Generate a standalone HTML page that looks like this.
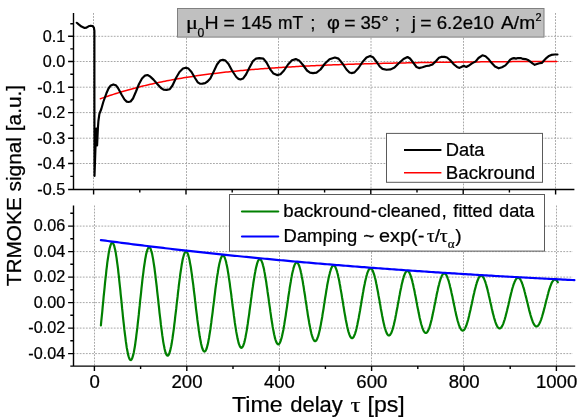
<!DOCTYPE html>
<html><head><meta charset="utf-8"><title>TRMOKE</title>
<style>html,body{margin:0;padding:0;background:#fff;}body{width:581px;height:418px;overflow:hidden;position:relative;font-family:"Liberation Sans",sans-serif;}text{fill:#000;stroke:#000;stroke-width:0.24px}</style>
</head><body>
<svg width="581" height="418" viewBox="0 0 581 418" style="position:absolute;left:0;top:0;will-change:transform;font-family:'Liberation Sans',sans-serif">
<rect x="0" y="0" width="581" height="418" fill="#ffffff"/>
<path d="M93.5 13.0 V189.5 M94.5 205.5 V366.1 M186.5 13.0 V189.5 M186.5 205.5 V366.1 M278.5 13.0 V189.5 M279.5 205.5 V366.1 M371.0 13.0 V189.5 M371.5 205.5 V366.1 M463.5 13.0 V189.5 M463.5 205.5 V366.1 M555.5 13.0 V189.5 M556.5 205.5 V366.1 M73.5 36.3 H572.8 M73.5 61.5 H572.8 M73.5 87.2 H572.8 M73.5 112.6 H572.8 M73.5 138.2 H572.8 M73.5 163.5 H572.8 M73.5 226.1 H572.8 M73.5 251.6 H572.8 M73.5 277.1 H572.8 M73.5 302.6 H572.8 M73.5 328.1 H572.8 M73.5 353.6 H572.8" stroke="#a8a8a8" stroke-width="1" stroke-dasharray="1.8 1.3" fill="none"/>
<polyline points="100.4,98.78 102.2,98.12 104.1,97.46 105.9,96.82 107.8,96.18 109.6,95.56 111.5,94.95 113.3,94.35 115.2,93.77 117.0,93.19 118.9,92.62 120.7,92.06 122.6,91.51 124.4,90.98 126.3,90.45 128.1,89.93 130.0,89.42 131.8,88.92 133.7,88.43 135.5,87.95 137.4,87.47 139.2,87.00 141.0,86.54 142.9,86.08 144.7,85.63 146.6,85.19 148.4,84.76 150.3,84.33 152.1,83.91 154.0,83.50 155.8,83.10 157.7,82.70 159.5,82.31 161.4,81.93 163.2,81.56 165.1,81.19 166.9,80.83 168.8,80.47 170.6,80.12 172.5,79.78 174.3,79.44 176.2,79.11 178.0,78.79 179.9,78.47 181.7,78.16 183.6,77.85 185.4,77.55 187.2,77.25 189.1,76.96 190.9,76.67 192.8,76.39 194.6,76.12 196.5,75.85 198.3,75.58 200.2,75.32 202.0,75.06 203.9,74.81 205.7,74.56 207.6,74.32 209.4,74.08 211.3,73.84 213.1,73.61 215.0,73.39 216.8,73.16 218.7,72.95 220.5,72.73 222.4,72.52 224.2,72.31 226.1,72.11 227.9,71.91 229.8,71.72 231.6,71.52 233.4,71.33 235.3,71.15 237.1,70.97 239.0,70.79 240.8,70.61 242.7,70.44 244.5,70.27 246.4,70.10 248.2,69.94 250.1,69.78 251.9,69.62 253.8,69.46 255.6,69.31 257.5,69.16 259.3,69.01 261.2,68.87 263.0,68.73 264.9,68.59 266.7,68.45 268.6,68.32 270.4,68.19 272.3,68.06 274.1,67.93 276.0,67.81 277.8,67.68 279.6,67.56 281.5,67.44 283.3,67.33 285.2,67.21 287.0,67.10 288.9,66.99 290.7,66.88 292.6,66.78 294.4,66.67 296.3,66.57 298.1,66.47 300.0,66.37 301.8,66.27 303.7,66.18 305.5,66.08 307.4,65.99 309.2,65.90 311.1,65.81 312.9,65.73 314.8,65.64 316.6,65.56 318.5,65.47 320.3,65.39 322.2,65.31 324.0,65.24 325.8,65.16 327.7,65.08 329.5,65.01 331.4,64.94 333.2,64.86 335.1,64.79 336.9,64.73 338.8,64.66 340.6,64.59 342.5,64.53 344.3,64.46 346.2,64.40 348.0,64.34 349.9,64.28 351.7,64.22 353.6,64.16 355.4,64.10 357.3,64.04 359.1,63.99 361.0,63.93 362.8,63.88 364.7,63.83 366.5,63.78 368.4,63.73 370.2,63.68 372.0,63.63 373.9,63.58 375.7,63.53 377.6,63.48 379.4,63.44 381.3,63.39 383.1,63.35 385.0,63.31 386.8,63.26 388.7,63.22 390.5,63.18 392.4,63.14 394.2,63.10 396.1,63.06 397.9,63.03 399.8,62.99 401.6,62.95 403.5,62.92 405.3,62.88 407.2,62.85 409.0,62.81 410.9,62.78 412.7,62.75 414.6,62.71 416.4,62.68 418.2,62.65 420.1,62.62 421.9,62.59 423.8,62.56 425.6,62.53 427.5,62.50 429.3,62.47 431.2,62.45 433.0,62.42 434.9,62.39 436.7,62.37 438.6,62.34 440.4,62.32 442.3,62.29 444.1,62.27 446.0,62.24 447.8,62.22 449.7,62.20 451.5,62.17 453.4,62.15 455.2,62.13 457.1,62.11 458.9,62.09 460.8,62.07 462.6,62.05 464.4,62.03 466.3,62.01 468.1,61.99 470.0,61.97 471.8,61.95 473.7,61.93 475.5,61.92 477.4,61.90 479.2,61.88 481.1,61.86 482.9,61.85 484.8,61.83 486.6,61.81 488.5,61.80 490.3,61.78 492.2,61.77 494.0,61.75 495.9,61.74 497.7,61.72 499.6,61.71 501.4,61.70 503.3,61.68 505.1,61.67 507.0,61.66 508.8,61.64 510.6,61.63 512.5,61.62 514.3,61.61 516.2,61.59 518.0,61.58 519.9,61.57 521.7,61.56 523.6,61.55 525.4,61.54 527.3,61.53 529.1,61.52 531.0,61.51 532.8,61.50 534.7,61.49 536.5,61.48 538.4,61.47 540.2,61.46 542.1,61.45 543.9,61.44 545.8,61.43 547.6,61.42 549.5,61.41 551.3,61.40 553.2,61.40 555.0,61.39 556.8,61.38" stroke="#ff0000" stroke-width="1.5" fill="none" stroke-linejoin="round" stroke-linecap="round"/>
<polyline points="76.8,22.8 78.7,24.4 81.5,26.6 84.6,28.0 86.5,27.6 88.5,26.3 90.8,25.7 92.6,26.0 93.9,27.6 94.4,31.0 94.4,100.0 94.5,176.0 95.4,150.0 96.3,128.5 97.1,145.5 97.9,128.0 98.4,121.0 99.4,113.8 101.3,109.0 103.3,102.0 106.4,93.3 108.5,88.5 110.8,85.4 113.3,84.4 115.8,85.2 118.0,88.0 121.5,94.5 124.5,99.5 126.7,101.6 128.5,102.0 130.6,101.5 133.0,98.5 136.0,91.5 139.0,84.0 142.0,78.5 145.0,75.6 147.5,75.0 150.0,76.4 153.5,79.6 157.5,84.2 161.0,88.0 163.5,89.6 166.6,89.9 169.8,89.2 172.5,85.5 176.0,78.0 179.5,72.0 183.0,68.6 185.8,67.7 188.5,68.6 191.5,72.0 195.0,78.0 197.8,82.3 199.9,83.7 202.5,83.6 205.1,83.1 207.5,81.5 210.3,78.5 213.5,72.0 217.0,64.5 220.0,60.6 222.8,59.8 225.5,60.6 228.5,64.0 232.0,70.5 236.3,77.0 238.5,78.9 240.5,79.5 243.0,78.6 246.0,74.5 249.5,67.5 253.0,61.0 256.0,58.6 259.2,58.1 263.4,58.6 266.5,62.5 270.0,69.1 273.5,73.6 277.0,75.1 280.5,74.2 284.0,70.5 288.0,64.5 292.0,60.2 295.8,59.1 299.0,60.4 303.0,65.0 307.0,70.5 310.0,72.6 313.0,73.1 316.5,72.6 320.5,69.5 325.0,63.5 329.5,59.2 334.9,57.5 338.5,58.6 342.5,63.5 346.5,69.5 349.5,72.4 351.5,73.1 354.5,72.4 358.5,68.0 362.5,62.0 366.5,57.5 370.2,56.0 373.0,57.2 377.0,62.5 380.0,66.8 382.5,68.9 386.5,69.8 390.8,69.4 394.5,67.5 399.0,63.0 403.5,59.0 407.5,57.0 410.0,58.5 413.5,63.0 416.5,67.0 419.0,68.1 422.5,67.3 426.3,66.0 429.5,65.6 432.5,64.4 436.0,61.0 439.0,57.8 441.9,56.7 444.5,56.9 447.0,57.5 450.0,60.0 454.0,64.5 457.0,66.9 459.6,67.9 461.8,66.8 463.8,65.8 465.2,66.6 466.3,67.0 468.5,65.8 472.0,63.4 475.7,61.4 478.5,58.0 482.4,55.3 485.5,56.2 488.2,58.7 491.5,62.8 495.0,66.6 498.7,68.3 502.0,67.2 505.4,65.4 508.0,62.5 510.2,59.7 512.0,58.6 514.0,58.1 516.0,58.6 518.0,58.0 520.7,58.1 523.0,58.9 525.5,59.1 528.0,60.0 530.3,61.6 532.5,63.4 534.7,64.8 537.0,64.0 539.5,63.3 541.8,62.9 544.0,60.6 546.6,57.8 549.0,55.9 551.3,54.9 554.5,54.5 557.5,54.5" stroke="#000000" stroke-width="2.15" fill="none" stroke-linejoin="round" stroke-linecap="round"/>
<polyline points="100.9,325.40 101.3,320.84 101.8,316.17 102.3,311.42 102.7,306.63 103.2,301.83 103.6,297.04 104.1,292.29 104.6,287.62 105.0,283.04 105.5,278.60 106.0,274.32 106.4,270.21 106.9,266.32 107.3,262.66 107.8,259.25 108.3,256.11 108.7,253.27 109.2,250.74 109.6,248.54 110.1,246.67 110.6,245.15 111.0,243.99 111.5,243.20 112.0,242.77 112.4,242.72 112.9,243.03 113.3,243.71 113.8,244.76 114.3,246.16 114.7,247.90 115.2,249.98 115.7,252.38 116.1,255.09 116.6,258.08 117.0,261.34 117.5,264.85 118.0,268.59 118.4,272.53 118.9,276.65 119.3,280.92 119.8,285.31 120.3,289.81 120.7,294.37 121.2,298.97 121.7,303.59 122.1,308.19 122.6,312.75 123.0,317.23 123.5,321.62 124.0,325.87 124.4,329.98 124.9,333.91 125.4,337.63 125.8,341.14 126.3,344.39 126.7,347.38 127.2,350.09 127.7,352.50 128.1,354.59 128.6,356.36 129.1,357.80 129.5,358.88 130.0,359.62 130.4,360.00 130.9,360.03 131.4,359.70 131.8,359.02 132.3,357.99 132.7,356.62 133.2,354.92 133.7,352.90 134.1,350.57 134.6,347.95 135.1,345.05 135.5,341.90 136.0,338.51 136.4,334.90 136.9,331.10 137.4,327.13 137.8,323.02 138.3,318.79 138.8,314.47 139.2,310.08 139.7,305.66 140.1,301.22 140.6,296.80 141.1,292.43 141.5,288.12 142.0,283.92 142.4,279.84 142.9,275.90 143.4,272.14 143.8,268.58 144.3,265.23 144.8,262.12 145.2,259.27 145.7,256.69 146.1,254.39 146.6,252.40 147.1,250.73 147.5,249.38 148.0,248.36 148.5,247.67 148.9,247.33 149.4,247.33 149.8,247.67 150.3,248.35 150.8,249.36 151.2,250.70 151.7,252.36 152.2,254.33 152.6,256.59 153.1,259.13 153.5,261.93 154.0,264.98 154.5,268.25 154.9,271.73 155.4,275.40 155.8,279.22 156.3,283.18 156.8,287.25 157.2,291.41 157.7,295.63 158.2,299.89 158.6,304.15 159.1,308.39 159.5,312.59 160.0,316.72 160.5,320.75 160.9,324.66 161.4,328.43 161.9,332.03 162.3,335.44 162.8,338.64 163.2,341.61 163.7,344.34 164.2,346.79 164.6,348.98 165.1,350.86 165.5,352.45 166.0,353.73 166.5,354.68 166.9,355.32 167.4,355.62 167.9,355.60 168.3,355.24 168.8,354.57 169.2,353.57 169.7,352.26 170.2,350.64 170.6,348.73 171.1,346.54 171.6,344.08 172.0,341.37 172.5,338.42 172.9,335.26 173.4,331.90 173.9,328.37 174.3,324.69 174.8,320.87 175.2,316.95 175.7,312.95 176.2,308.89 176.6,304.80 177.1,300.71 177.6,296.63 178.0,292.60 178.5,288.64 178.9,284.78 179.4,281.03 179.9,277.42 180.3,273.97 180.8,270.71 181.3,267.65 181.7,264.81 182.2,262.21 182.6,259.87 183.1,257.80 183.6,256.00 184.0,254.50 184.5,253.30 185.0,252.40 185.4,251.82 185.9,251.55 186.3,251.60 186.8,251.96 187.3,252.63 187.7,253.61 188.2,254.89 188.6,256.47 189.1,258.32 189.6,260.45 190.0,262.83 190.5,265.45 191.0,268.30 191.4,271.35 191.9,274.59 192.3,278.00 192.8,281.55 193.3,285.22 193.7,289.00 194.2,292.85 194.7,296.75 195.1,300.68 195.6,304.61 196.0,308.53 196.5,312.40 197.0,316.20 197.4,319.90 197.9,323.50 198.4,326.95 198.8,330.25 199.3,333.37 199.7,336.30 200.2,339.01 200.7,341.48 201.1,343.72 201.6,345.69 202.0,347.39 202.5,348.82 203.0,349.95 203.4,350.79 203.9,351.33 204.4,351.56 204.8,351.49 205.3,351.12 205.7,350.45 206.2,349.49 206.7,348.24 207.1,346.70 207.6,344.90 208.1,342.84 208.5,340.53 209.0,338.00 209.4,335.24 209.9,332.30 210.4,329.17 210.8,325.89 211.3,322.47 211.7,318.93 212.2,315.30 212.7,311.59 213.1,307.84 213.6,304.06 214.1,300.28 214.5,296.53 215.0,292.81 215.4,289.17 215.9,285.61 216.4,282.17 216.8,278.86 217.3,275.70 217.8,272.72 218.2,269.92 218.7,267.33 219.1,264.97 219.6,262.84 220.1,260.97 220.5,259.35 221.0,258.00 221.5,256.93 221.9,256.15 222.4,255.65 222.8,255.45 223.3,255.54 223.8,255.91 224.2,256.58 224.7,257.53 225.1,258.75 225.6,260.25 226.1,262.00 226.5,264.00 227.0,266.23 227.5,268.68 227.9,271.34 228.4,274.19 228.8,277.20 229.3,280.37 229.8,283.66 230.2,287.07 230.7,290.57 231.2,294.13 231.6,297.74 232.1,301.37 232.5,305.00 233.0,308.61 233.5,312.17 233.9,315.67 234.4,319.08 234.8,322.38 235.3,325.55 235.8,328.57 236.2,331.42 236.7,334.09 237.2,336.57 237.6,338.82 238.1,340.85 238.5,342.63 239.0,344.17 239.5,345.44 239.9,346.45 240.4,347.18 240.9,347.63 241.3,347.81 241.8,347.71 242.2,347.32 242.7,346.66 243.2,345.73 243.6,344.53 244.1,343.08 244.6,341.38 245.0,339.44 245.5,337.28 245.9,334.91 246.4,332.34 246.9,329.59 247.3,326.68 247.8,323.63 248.2,320.45 248.7,317.17 249.2,313.81 249.6,310.38 250.1,306.91 250.6,303.42 251.0,299.94 251.5,296.47 251.9,293.05 252.4,289.70 252.9,286.43 253.3,283.27 253.8,280.23 254.3,277.34 254.7,274.61 255.2,272.05 255.6,269.70 256.1,267.55 256.6,265.61 257.0,263.92 257.5,262.46 257.9,261.26 258.4,260.31 258.9,259.63 259.3,259.21 259.8,259.06 260.3,259.18 260.7,259.57 261.2,260.22 261.6,261.14 262.1,262.31 262.6,263.72 263.0,265.37 263.5,267.25 264.0,269.34 264.4,271.64 264.9,274.12 265.3,276.77 265.8,279.58 266.3,282.52 266.7,285.58 267.2,288.74 267.6,291.98 268.1,295.27 268.6,298.61 269.0,301.96 269.5,305.31 270.0,308.64 270.4,311.92 270.9,315.14 271.3,318.27 271.8,321.30 272.3,324.21 272.7,326.98 273.2,329.59 273.7,332.03 274.1,334.28 274.6,336.33 275.0,338.17 275.5,339.78 276.0,341.16 276.4,342.30 276.9,343.20 277.4,343.83 277.8,344.22 278.3,344.34 278.7,344.20 279.2,343.81 279.7,343.16 280.1,342.27 280.6,341.13 281.0,339.75 281.5,338.14 282.0,336.32 282.4,334.30 282.9,332.08 283.4,329.68 283.8,327.12 284.3,324.42 284.7,321.58 285.2,318.63 285.7,315.59 286.1,312.47 286.6,309.30 287.1,306.09 287.5,302.87 288.0,299.65 288.4,296.46 288.9,293.31 289.4,290.22 289.8,287.22 290.3,284.32 290.8,281.53 291.2,278.88 291.7,276.39 292.1,274.06 292.6,271.91 293.1,269.95 293.5,268.20 294.0,266.67 294.4,265.36 294.9,264.28 295.4,263.44 295.8,262.85 296.3,262.50 296.8,262.40 297.2,262.55 297.7,262.94 298.1,263.58 298.6,264.46 299.1,265.58 299.5,266.92 300.0,268.47 300.5,270.24 300.9,272.20 301.4,274.34 301.8,276.66 302.3,279.13 302.8,281.74 303.2,284.47 303.7,287.31 304.1,290.24 304.6,293.24 305.1,296.29 305.5,299.38 306.0,302.47 306.5,305.56 306.9,308.63 307.4,311.65 307.8,314.61 308.3,317.49 308.8,320.27 309.2,322.94 309.7,325.47 310.2,327.86 310.6,330.09 311.1,332.14 311.5,334.01 312.0,335.67 312.5,337.13 312.9,338.37 313.4,339.39 313.9,340.18 314.3,340.73 314.8,341.05 315.2,341.13 315.7,340.97 316.2,340.57 316.6,339.94 317.1,339.07 317.5,337.99 318.0,336.68 318.5,335.17 318.9,333.46 319.4,331.56 319.9,329.49 320.3,327.25 320.8,324.87 321.2,322.35 321.7,319.72 322.2,316.98 322.6,314.16 323.1,311.28 323.6,308.34 324.0,305.38 324.5,302.40 324.9,299.43 325.4,296.49 325.9,293.59 326.3,290.75 326.8,287.99 327.2,285.32 327.7,282.77 328.2,280.35 328.6,278.06 329.1,275.93 329.6,273.98 330.0,272.20 330.5,270.61 330.9,269.23 331.4,268.05 331.9,267.09 332.3,266.35 332.8,265.83 333.3,265.54 333.7,265.49 334.2,265.66 334.6,266.06 335.1,266.68 335.6,267.53 336.0,268.59 336.5,269.85 337.0,271.32 337.4,272.98 337.9,274.81 338.3,276.82 338.8,278.98 339.3,281.28 339.7,283.71 340.2,286.25 340.6,288.88 341.1,291.60 341.6,294.38 342.0,297.20 342.5,300.05 343.0,302.91 343.4,305.76 343.9,308.58 344.3,311.37 344.8,314.09 345.3,316.74 345.7,319.29 346.2,321.73 346.7,324.05 347.1,326.24 347.6,328.27 348.0,330.14 348.5,331.83 349.0,333.35 349.4,334.66 349.9,335.78 350.3,336.69 350.8,337.38 351.3,337.86 351.7,338.12 352.2,338.16 352.7,337.98 353.1,337.58 353.6,336.96 354.0,336.13 354.5,335.10 355.0,333.87 355.4,332.44 355.9,330.84 356.4,329.06 356.8,327.12 357.3,325.04 357.7,322.82 358.2,320.47 358.7,318.03 359.1,315.49 359.6,312.87 360.1,310.20 360.5,307.49 361.0,304.75 361.4,302.00 361.9,299.26 362.4,296.55 362.8,293.88 363.3,291.27 363.7,288.73 364.2,286.29 364.7,283.95 365.1,281.72 365.6,279.64 366.1,277.70 366.5,275.91 367.0,274.30 367.4,272.86 367.9,271.61 368.4,270.55 368.8,269.69 369.3,269.04 369.8,268.60 370.2,268.36 370.7,268.34 371.1,268.53 371.6,268.93 372.1,269.54 372.5,270.35 373.0,271.36 373.4,272.55 373.9,273.94 374.4,275.49 374.8,277.21 375.3,279.08 375.8,281.10 376.2,283.24 376.7,285.50 377.1,287.86 377.6,290.30 378.1,292.82 378.5,295.39 379.0,298.00 379.5,300.64 379.9,303.28 380.4,305.91 380.8,308.51 381.3,311.07 381.8,313.58 382.2,316.01 382.7,318.35 383.1,320.59 383.6,322.72 384.1,324.71 384.5,326.57 385.0,328.27 385.5,329.81 385.9,331.18 386.4,332.36 386.8,333.37 387.3,334.18 387.8,334.79 388.2,335.20 388.7,335.41 389.2,335.41 389.6,335.22 390.1,334.82 390.5,334.22 391.0,333.43 391.5,332.44 391.9,331.28 392.4,329.94 392.9,328.43 393.3,326.77 393.8,324.96 394.2,323.01 394.7,320.94 395.2,318.77 395.6,316.49 396.1,314.14 396.5,311.71 397.0,309.24 397.5,306.73 397.9,304.20 398.4,301.66 398.9,299.14 399.3,296.64 399.8,294.18 400.2,291.78 400.7,289.45 401.2,287.20 401.6,285.06 402.1,283.03 402.6,281.12 403.0,279.35 403.5,277.72 403.9,276.25 404.4,274.95 404.9,273.82 405.3,272.87 405.8,272.11 406.2,271.54 406.7,271.16 407.2,270.97 407.6,270.98 408.1,271.18 408.6,271.58 409.0,272.17 409.5,272.95 409.9,273.90 410.4,275.04 410.9,276.34 411.3,277.80 411.8,279.41 412.3,281.16 412.7,283.03 413.2,285.03 413.6,287.13 414.1,289.32 414.6,291.59 415.0,293.92 415.5,296.30 416.0,298.72 416.4,301.15 416.9,303.59 417.3,306.01 417.8,308.41 418.3,310.77 418.7,313.07 419.2,315.30 419.6,317.45 420.1,319.51 420.6,321.45 421.0,323.28 421.5,324.97 422.0,326.52 422.4,327.92 422.9,329.15 423.3,330.23 423.8,331.13 424.3,331.85 424.7,332.38 425.2,332.73 425.7,332.90 426.1,332.88 426.6,332.67 427.0,332.27 427.5,331.69 428.0,330.93 428.4,330.00 428.9,328.90 429.4,327.64 429.8,326.22 430.3,324.67 430.7,322.98 431.2,321.16 431.7,319.24 432.1,317.21 432.6,315.10 433.0,312.92 433.5,310.67 434.0,308.38 434.4,306.06 434.9,303.72 435.4,301.38 435.8,299.05 436.3,296.75 436.7,294.49 437.2,292.28 437.7,290.14 438.1,288.08 438.6,286.11 439.1,284.25 439.5,282.51 440.0,280.89 440.4,279.42 440.9,278.08 441.4,276.90 441.8,275.89 442.3,275.04 442.7,274.36 443.2,273.85 443.7,273.53 444.1,273.38 444.6,273.42 445.1,273.64 445.5,274.03 446.0,274.60 446.4,275.34 446.9,276.25 447.4,277.32 447.8,278.54 448.3,279.91 448.8,281.42 449.2,283.05 449.7,284.80 450.1,286.66 450.6,288.61 451.1,290.65 451.5,292.75 452.0,294.91 452.5,297.11 452.9,299.35 453.4,301.59 453.8,303.84 454.3,306.08 454.8,308.29 455.2,310.46 455.7,312.58 456.1,314.63 456.6,316.60 457.1,318.48 457.5,320.26 458.0,321.93 458.5,323.47 458.9,324.88 459.4,326.15 459.8,327.27 460.3,328.24 460.8,329.04 461.2,329.68 461.7,330.15 462.2,330.45 462.6,330.58 463.1,330.53 463.5,330.31 464.0,329.92 464.5,329.36 464.9,328.63 465.4,327.75 465.8,326.71 466.3,325.52 466.8,324.20 467.2,322.74 467.7,321.16 468.2,319.47 468.6,317.68 469.1,315.80 469.5,313.84 470.0,311.81 470.5,309.73 470.9,307.61 471.4,305.47 471.9,303.31 472.3,301.15 472.8,299.00 473.2,296.88 473.7,294.79 474.2,292.76 474.6,290.80 475.1,288.91 475.6,287.11 476.0,285.41 476.5,283.82 476.9,282.34 477.4,281.00 477.9,279.79 478.3,278.72 478.8,277.80 479.2,277.04 479.7,276.44 480.2,276.00 480.6,275.73 481.1,275.62 481.6,275.67 482.0,275.90 482.5,276.29 482.9,276.84 483.4,277.55 483.9,278.41 484.3,279.42 484.8,280.57 485.3,281.85 485.7,283.26 486.2,284.78 486.6,286.42 487.1,288.14 487.6,289.96 488.0,291.85 488.5,293.80 488.9,295.80 489.4,297.84 489.9,299.90 490.3,301.98 490.8,304.05 491.3,306.12 491.7,308.15 492.2,310.15 492.6,312.10 493.1,313.98 493.6,315.79 494.0,317.51 494.5,319.14 495.0,320.66 495.4,322.07 495.9,323.35 496.3,324.50 496.8,325.52 497.3,326.39 497.7,327.11 498.2,327.68 498.6,328.09 499.1,328.34 499.6,328.43 500.0,328.36 500.5,328.14 501.0,327.75 501.4,327.21 501.9,326.52 502.3,325.68 502.8,324.70 503.3,323.59 503.7,322.34 504.2,320.98 504.7,319.51 505.1,317.93 505.6,316.26 506.0,314.51 506.5,312.70 507.0,310.82 507.4,308.89 507.9,306.93 508.4,304.94 508.8,302.95 509.3,300.96 509.7,298.98 510.2,297.02 510.7,295.11 511.1,293.24 511.6,291.43 512.0,289.70 512.5,288.05 513.0,286.50 513.4,285.04 513.9,283.70 514.4,282.48 514.8,281.38 515.3,280.41 515.7,279.59 516.2,278.91 516.7,278.37 517.1,277.99 517.6,277.76 518.1,277.68 518.5,277.76 519.0,277.99 519.4,278.37 519.9,278.90 520.4,279.57 520.8,280.39 521.3,281.34 521.8,282.42 522.2,283.63 522.7,284.94 523.1,286.37 523.6,287.89 524.1,289.50 524.5,291.18 525.0,292.94 525.4,294.74 525.9,296.60 526.4,298.48 526.8,300.39 527.3,302.31 527.8,304.23 528.2,306.13 528.7,308.00 529.1,309.84 529.6,311.63 530.1,313.36 530.5,315.02 531.0,316.59 531.5,318.08 531.9,319.47 532.4,320.76 532.8,321.92 533.3,322.97 533.8,323.88 534.2,324.67 534.7,325.31 535.1,325.81 535.6,326.17 536.1,326.38 536.5,326.44 537.0,326.36 537.5,326.13 537.9,325.75 538.4,325.23 538.8,324.57 539.3,323.78 539.8,322.85 540.2,321.81 540.7,320.64 541.2,319.37 541.6,317.99 542.1,316.53 542.5,314.97 543.0,313.35 543.5,311.66 543.9,309.92 544.4,308.13 544.9,306.32 545.3,304.48 545.8,302.64 546.2,300.80 546.7,298.98 547.2,297.18 547.6,295.42 548.1,293.70 548.5,292.04 549.0,290.45 549.5,288.94 549.9,287.52 550.4,286.19 550.9,284.97 551.3,283.86 551.8,282.86 552.2,281.99 552.7,281.25 553.2,280.64 553.6,280.17 554.1,279.83 554.6,279.64 555.0,279.59 555.5,279.68 555.9,279.92 556.4,280.29 556.9,280.80 557.3,281.44 557.8,282.22" stroke="#008000" stroke-width="2.2" fill="none" stroke-linejoin="round" stroke-linecap="round"/>
<polyline points="100.9,240.06 103.2,240.38 105.5,240.69 107.8,240.99 110.1,241.30 112.4,241.61 114.7,241.91 117.0,242.21 119.3,242.51 121.7,242.81 124.0,243.11 126.3,243.41 128.6,243.70 130.9,244.00 133.2,244.29 135.5,244.58 137.8,244.87 140.1,245.16 142.4,245.44 144.8,245.73 147.1,246.01 149.4,246.29 151.7,246.57 154.0,246.85 156.3,247.13 158.6,247.41 160.9,247.68 163.2,247.95 165.5,248.23 167.9,248.50 170.2,248.77 172.5,249.04 174.8,249.30 177.1,249.57 179.4,249.83 181.7,250.10 184.0,250.36 186.3,250.62 188.6,250.88 191.0,251.13 193.3,251.39 195.6,251.65 197.9,251.90 200.2,252.15 202.5,252.40 204.8,252.65 207.1,252.90 209.4,253.15 211.7,253.40 214.1,253.64 216.4,253.89 218.7,254.13 221.0,254.37 223.3,254.61 225.6,254.85 227.9,255.09 230.2,255.32 232.5,255.56 234.8,255.79 237.2,256.03 239.5,256.26 241.8,256.49 244.1,256.72 246.4,256.95 248.7,257.18 251.0,257.40 253.3,257.63 255.6,257.85 257.9,258.07 260.3,258.30 262.6,258.52 264.9,258.74 267.2,258.95 269.5,259.17 271.8,259.39 274.1,259.60 276.4,259.82 278.7,260.03 281.0,260.24 283.4,260.45 285.7,260.66 288.0,260.87 290.3,261.08 292.6,261.29 294.9,261.49 297.2,261.70 299.5,261.90 301.8,262.10 304.1,262.31 306.5,262.51 308.8,262.71 311.1,262.91 313.4,263.10 315.7,263.30 318.0,263.50 320.3,263.69 322.6,263.88 324.9,264.08 327.2,264.27 329.6,264.46 331.9,264.65 334.2,264.84 336.5,265.03 338.8,265.21 341.1,265.40 343.4,265.59 345.7,265.77 348.0,265.95 350.3,266.14 352.7,266.32 355.0,266.50 357.3,266.68 359.6,266.86 361.9,267.04 364.2,267.21 366.5,267.39 368.8,267.56 371.1,267.74 373.4,267.91 375.8,268.08 378.1,268.26 380.4,268.43 382.7,268.60 385.0,268.77 387.3,268.94 389.6,269.10 391.9,269.27 394.2,269.44 396.5,269.60 398.9,269.77 401.2,269.93 403.5,270.09 405.8,270.25 408.1,270.41 410.4,270.58 412.7,270.73 415.0,270.89 417.3,271.05 419.6,271.21 422.0,271.36 424.3,271.52 426.6,271.67 428.9,271.83 431.2,271.98 433.5,272.13 435.8,272.29 438.1,272.44 440.4,272.59 442.7,272.74 445.1,272.89 447.4,273.03 449.7,273.18 452.0,273.33 454.3,273.47 456.6,273.62 458.9,273.76 461.2,273.91 463.5,274.05 465.8,274.19 468.2,274.33 470.5,274.47 472.8,274.61 475.1,274.75 477.4,274.89 479.7,275.03 482.0,275.17 484.3,275.30 486.6,275.44 488.9,275.57 491.3,275.71 493.6,275.84 495.9,275.98 498.2,276.11 500.5,276.24 502.8,276.37 505.1,276.50 507.4,276.63 509.7,276.76 512.0,276.89 514.4,277.02 516.7,277.14 519.0,277.27 521.3,277.40 523.6,277.52 525.9,277.65 528.2,277.77 530.5,277.90 532.8,278.02 535.1,278.14 537.5,278.26 539.8,278.38 542.1,278.50 544.4,278.62 546.7,278.74 549.0,278.86 551.3,278.98 553.6,279.10 555.9,279.22 558.2,279.33 560.6,279.45 562.9,279.56 565.2,279.68 567.5,279.79 569.8,279.90 572.1,280.02 574.4,280.13" stroke="#0000ff" stroke-width="2.2" fill="none" stroke-linejoin="round" stroke-linecap="round"/>
<path d="M73.5 13.0 V189.5 M68.1 189.5 H574.4 M73.5 205.5 V366.1 M70.3 366.1 H575.2 M93.6 189.5 v5.0 M94.4 366.1 v5.0 M139.8 189.5 v2.9 M140.6 366.1 v2.9 M186.0 189.5 v5.0 M186.8 366.1 v5.0 M232.2 189.5 v2.9 M233.0 366.1 v2.9 M278.4 189.5 v5.0 M279.2 366.1 v5.0 M324.6 189.5 v2.9 M325.4 366.1 v2.9 M370.8 189.5 v5.0 M371.6 366.1 v5.0 M417.0 189.5 v2.9 M417.8 366.1 v2.9 M463.2 189.5 v5.0 M464.0 366.1 v5.0 M509.4 189.5 v2.9 M510.2 366.1 v2.9 M555.6 189.5 v5.0 M556.4 366.1 v5.0 M73.5 176.4 h-3.2 M73.5 163.5 h-5.4 M73.5 150.8 h-3.2 M73.5 138.2 h-5.4 M73.5 125.4 h-3.2 M73.5 112.6 h-5.4 M73.5 99.9 h-3.2 M73.5 87.2 h-5.4 M73.5 74.3 h-3.2 M73.5 61.5 h-5.4 M73.5 48.9 h-3.2 M73.5 36.3 h-5.4 M73.5 23.7 h-3.2 M73.5 353.6 h-5.4 M73.5 340.8 h-3.2 M73.5 328.1 h-5.4 M73.5 315.3 h-3.2 M73.5 302.6 h-5.4 M73.5 289.8 h-3.2 M73.5 277.1 h-5.4 M73.5 264.3 h-3.2 M73.5 251.6 h-5.4 M73.5 238.8 h-3.2 M73.5 226.1 h-5.4 M73.5 213.3 h-3.2" stroke="#000" stroke-width="1.4" fill="none"/>
<rect x="177.5" y="8.5" width="366.5" height="28.6" fill="#c0c0c0" stroke="#808080" stroke-width="1"/>
<rect x="386.5" y="133.4" width="156" height="48.9" fill="#fff" stroke="#5a5a5a" stroke-width="1"/>
<path d="M404 150.1 H441.4" stroke="#000" stroke-width="2"/>
<path d="M404 172.7 H441.4" stroke="#ff0000" stroke-width="1.5"/>
<rect x="229.5" y="194.5" width="315" height="56.6" fill="#fff" stroke="#5a5a5a" stroke-width="1"/>
<path d="M242 211.5 H278.2" stroke="#008000" stroke-width="2.2" stroke-linecap="round"/>
<path d="M242 236.5 H278.2" stroke="#0000ff" stroke-width="2.2" stroke-linecap="round"/>
<text x="65.2" y="41.6" font-size="16.2" text-anchor="end" >0.1</text>
<text x="65.2" y="66.8" font-size="16.2" text-anchor="end" >0.0</text>
<text x="65.2" y="92.5" font-size="16.2" text-anchor="end" >-0.1</text>
<text x="65.2" y="117.9" font-size="16.2" text-anchor="end" >-0.2</text>
<text x="65.2" y="143.5" font-size="16.2" text-anchor="end" >-0.3</text>
<text x="65.2" y="168.8" font-size="16.2" text-anchor="end" >-0.4</text>
<text x="65.2" y="194.7" font-size="16.2" text-anchor="end" >-0.5</text>
<text x="65.2" y="231.4" font-size="16.2" text-anchor="end" >0.06</text>
<text x="65.2" y="256.9" font-size="16.2" text-anchor="end" >0.04</text>
<text x="65.2" y="282.4" font-size="16.2" text-anchor="end" >0.02</text>
<text x="65.2" y="307.9" font-size="16.2" text-anchor="end" >0.00</text>
<text x="65.2" y="333.4" font-size="16.2" text-anchor="end" >-0.02</text>
<text x="65.2" y="358.9" font-size="16.2" text-anchor="end" >-0.04</text>
<text transform="translate(94.6,387.5) scale(1.05,1)" font-size="17.7" text-anchor="middle">0</text>
<text transform="translate(187.0,387.5) scale(1.05,1)" font-size="17.7" text-anchor="middle">200</text>
<text transform="translate(279.4,387.5) scale(1.05,1)" font-size="17.7" text-anchor="middle">400</text>
<text transform="translate(371.8,387.5) scale(1.05,1)" font-size="17.7" text-anchor="middle">600</text>
<text transform="translate(464.2,387.5) scale(1.05,1)" font-size="17.7" text-anchor="middle">800</text>
<text transform="translate(556.6,387.5) scale(1.05,1)" font-size="17.7" text-anchor="middle">1000</text>
<text transform="translate(21.3,185.6) rotate(-90) scale(1.016,1)" font-size="20.5" text-anchor="middle">TRMOKE signal [a.u.]</text>
<text transform="translate(186.01,28.7) scale(1.1426,1)" font-family="Liberation Serif" font-size="19.5" stroke="none">μ</text>
<text transform="translate(197.57,36.5) scale(0.9385,1)" font-family="Liberation Sans" font-size="13" >0</text>
<text transform="translate(204.62,28.7) scale(1.0925,1)" font-family="Liberation Sans" font-size="17.9" >H</text>
<text transform="translate(223.46,28.7) scale(1.0800,1)" font-family="Liberation Sans" font-size="17.9" >=</text>
<text transform="translate(241.09,28.7) scale(1.0349,1)" font-family="Liberation Sans" font-size="17.9" >145</text>
<text transform="translate(277.96,28.7) scale(0.9746,1)" font-family="Liberation Sans" font-size="17.9" >mT</text>
<text transform="translate(310.21,28.7) scale(1.0500,1)" font-family="Liberation Sans" font-size="17.9" >;</text>
<text transform="translate(326.93,28.7) scale(1.1113,1)" font-family="Liberation Sans" font-size="17.9" >φ</text>
<text transform="translate(344.21,28.7) scale(1.0800,1)" font-family="Liberation Sans" font-size="17.9" >=</text>
<text transform="translate(360.47,28.7) scale(1.0391,1)" font-family="Liberation Sans" font-size="17.9" >35°</text>
<text transform="translate(394.71,28.7) scale(1.0500,1)" font-family="Liberation Sans" font-size="17.9" >;</text>
<text transform="translate(411.68,28.7) scale(1.0500,1)" font-family="Liberation Sans" font-size="17.9" >j</text>
<text transform="translate(420.31,28.7) scale(1.0800,1)" font-family="Liberation Sans" font-size="17.9" >=</text>
<text transform="translate(436.67,28.7) scale(1.0456,1)" font-family="Liberation Sans" font-size="17.9" >6.2e10</text>
<text transform="translate(501.05,28.7) scale(1.0713,1)" font-family="Liberation Sans" font-size="17.9" >A/m</text>
<text transform="translate(535.45,20.5) scale(0.9174,1)" font-family="Liberation Sans" font-size="11.8" >2</text>
<text transform="translate(445.82,155.6) scale(1.0044,1)" font-family="Liberation Sans" font-size="18.2" >Data</text>
<text transform="translate(445.79,178.8) scale(1.0276,1)" font-family="Liberation Sans" font-size="18.2" >Backround</text>
<text transform="translate(283.28,216.8) scale(1.0250,1)" font-family="Liberation Sans" font-size="18.2" >backround</text>
<text transform="translate(370.76,216.8) scale(1.0500,1)" font-family="Liberation Sans" font-size="18.2" >-</text>
<text transform="translate(377.69,216.8) scale(0.9893,1)" font-family="Liberation Sans" font-size="18.2" >cleaned</text>
<text transform="translate(441.46,216.8) scale(1.0500,1)" font-family="Liberation Sans" font-size="18.2" >,</text>
<text transform="translate(453.35,216.8) scale(0.9965,1)" font-family="Liberation Sans" font-size="18.2" >fitted</text>
<text transform="translate(498.98,216.8) scale(1.0037,1)" font-family="Liberation Sans" font-size="18.2" >data</text>
<text transform="translate(283.61,241.6) scale(1.0101,1)" font-family="Liberation Sans" font-size="18.2" >Damping</text>
<text transform="translate(363.33,241.6) scale(1.0500,1)" font-family="Liberation Sans" font-size="18.2" >~</text>
<text transform="translate(378.93,241.6) scale(1.0907,1)" font-family="Liberation Sans" font-size="18.2" >exp(</text>
<text transform="translate(418.06,241.6) scale(1.0500,1)" font-family="Liberation Sans" font-size="18.2" >-</text>
<text transform="translate(427.06,241.6) scale(1.0256,1)" font-family="Liberation Serif" font-size="18.2" >τ</text>
<text transform="translate(434.71,241.6) scale(1.0500,1)" font-family="Liberation Sans" font-size="18.2" >/</text>
<text transform="translate(439.85,241.6) scale(1.0696,1)" font-family="Liberation Serif" font-size="18.2" >τ</text>
<text transform="translate(447.68,248.3) scale(1.0427,1)" font-family="Liberation Serif" font-size="12.5" >α</text>
<text transform="translate(455.26,241.6) scale(1.0500,1)" font-family="Liberation Sans" font-size="18.2" >)</text>
<text transform="translate(232.09,411.7) scale(1.0526,1)" font-family="Liberation Sans" font-size="22" >Time</text>
<text transform="translate(290.16,411.7) scale(1.0018,1)" font-family="Liberation Sans" font-size="22" >delay</text>
<text transform="translate(350.56,411.7) scale(1.1394,1)" font-family="Liberation Serif" font-size="22" >τ</text>
<text transform="translate(367.51,411.7) scale(1.0493,1)" font-family="Liberation Sans" font-size="22" >[ps]</text>
</svg>
</body></html>
